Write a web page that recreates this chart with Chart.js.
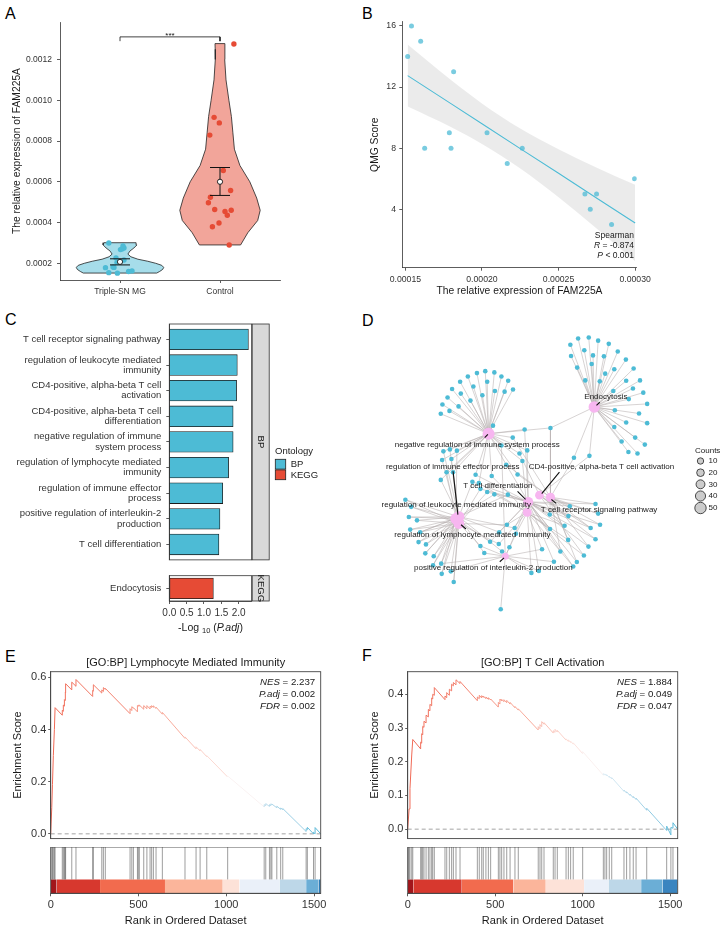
<!DOCTYPE html>
<html><head><meta charset="utf-8">
<script src="https://cdn.jsdelivr.net/npm/chart.js@4.4.1/dist/chart.umd.min.js"></script>
<style>
html,body{margin:0;padding:0;background:#fff}
body{width:726px;height:930px;position:relative;overflow:hidden;font-family:"Liberation Sans",Arial,sans-serif}
canvas{position:absolute;display:block}
.pl{position:absolute;font-size:16px;line-height:16px;color:#000}
</style></head><body>
<div class="pl" style="left:5px;top:6px">A</div>
<div class="pl" style="left:362px;top:6px">B</div>
<div class="pl" style="left:5px;top:312px">C</div>
<div class="pl" style="left:362px;top:313px">D</div>
<div class="pl" style="left:5px;top:649px">E</div>
<div class="pl" style="left:362px;top:648px">F</div>
<canvas id="cA" width="300" height="300" style="left:0;top:0"></canvas>
<canvas id="cB" width="366" height="300" style="left:360px;top:0"></canvas>
<canvas id="cC1" width="360" height="270" style="left:0;top:300px"></canvas>
<canvas id="cC2" width="360" height="75" style="left:0;top:565px"></canvas>
<canvas id="cD" width="366" height="320" style="left:360px;top:300px"></canvas>
<canvas id="cE1" width="360" height="207" style="left:0;top:640px"></canvas>
<canvas id="cE2" width="360" height="83" style="left:0;top:847px"></canvas>
<canvas id="cF1" width="366" height="207" style="left:360px;top:640px"></canvas>
<canvas id="cF2" width="366" height="83" style="left:360px;top:847px"></canvas>
<script>
// ================= DATA =================
// Panel A
const groupsA = ['Triple-SN MG', 'Control'];
const yTicksA = [0.0002, 0.0004, 0.0006, 0.0008, 0.0010, 0.0012];
const snExpr = [0.0001515,0.000154,0.00016,0.0001626,0.0001787,0.0001798,0.0001815,0.0002033,0.0002165,0.0002263,0.0002672,0.0002707,0.0002748,0.0002846,0.0002996];
const snJit  = [-0.026,-0.112,0.086,0.12,-0.145,-0.06,-0.07,-0.03,0.04,-0.04,0.005,0.02,0.04,0.03,-0.112];
const ctExpr = [0.001276,0.000916,0.000889,0.000829,0.000655,0.000557,0.000524,0.000497,0.000464,0.00046,0.000454,0.000436,0.000398,0.000379,0.00029];
const ctJit  = [0.139,-0.059,-0.007,-0.102,0.033,0.106,-0.096,-0.116,-0.053,0.112,0.05,0.073,-0.01,-0.076,0.092];
const snViolinY = [0.000301,0.00029,0.000275,0.00026,0.000245,0.000232,0.00022,0.00021,0.0002,0.00019,0.00018,0.00017,0.00016,0.000152];
const snViolinW = [0.161,0.169,0.139,0.099,0.079,0.109,0.179,0.278,0.357,0.417,0.437,0.427,0.397,0.367];
const ctViolinY = [0.001278,0.00125,0.0012,0.0011,0.001,0.00092,0.00084,0.00076,0.00068,0.0006,0.00052,0.00046,0.00041,0.00035,0.00029];
const ctViolinW = [0.05,0.048,0.047,0.06,0.089,0.114,0.129,0.144,0.199,0.298,0.367,0.402,0.377,0.278,0.206];
const meanA = [0.000207, 0.000600];
const seLoA = [0.000192, 0.000533];
const seHiA = [0.000222, 0.000670];
const sigY = 0.001311, sigTick = 0.00129;

// Panel B
const qmgX = [0.0001515,0.000154,0.00016,0.0001626,0.0001787,0.0001798,0.0001815,0.0002033,0.0002165,0.0002263,0.0002672,0.0002707,0.0002748,0.0002846,0.0002996];
const qmgY = [14,16,15,8,9,8,13,9,7,8,5,4,5,3,6];
const fitX = [0.0001515,0.00018,0.0002,0.000225,0.00025,0.000275,0.0003];
const fitY = [12.75,10.90,9.60,7.97,6.35,4.72,3.10];
const bandLo = [10.72,9.36,8.27,6.66,4.78,2.72,0.60];
const bandHi = [14.78,12.44,10.93,9.28,7.92,6.72,5.60];
const xTicksB = [0.00015,0.0002,0.00025,0.0003];
const yTicksB = [4,8,12,16];

// Panel C
const termsBP = [['T cell receptor signaling pathway'],['regulation of leukocyte mediated','immunity'],['CD4-positive, alpha-beta T cell','activation'],['CD4-positive, alpha-beta T cell','differentiation'],['negative regulation of immune','system process'],['regulation of lymphocyte mediated','immunity'],['regulation of immune effector','process'],['positive regulation of interleukin-2','production'],['T cell differentiation']];
const valsBP = [2.28,1.96,1.94,1.84,1.84,1.71,1.54,1.46,1.43];
const termsKEGG = [['Endocytosis']];
const valsKEGG = [1.27];
const xTicksC = [0,0.5,1,1.5,2];

// Panel D (network layout coordinates)
const catNames = ['T cell receptor signaling pathway','regulation of leukocyte mediated immunity','CD4-positive, alpha-beta T cell activation','CD4-positive, alpha-beta T cell differentiation','negative regulation of immune system process','regulation of lymphocyte mediated immunity','regulation of immune effector process','positive regulation of interleukin-2 production','T cell differentiation','Endocytosis'];
const catX = [170.7,76,159.3,146.7,106.7,76,73,124,147.7,216];
const catY = [178.7,199,176.5,194.3,112.7,206,201,240,183.5,85];
const catCount = [32,48,28,30,55,46,50,15,38,50];
const labX = [221,73.3,223.5,null,95,90,69.7,111.7,116.2,228];
const labY = [191.3,186.7,147,null,124,218,147,252.3,167,74];
const leadX0 = [176.7,null,180,null,102.7,83.3,70,118.3,136.7,221.7];
const leadY0 = [185,null,152.7,null,116.7,211.7,151.7,245.7,172.7,80];
const leadX1 = [171.7,null,161.7,null,106,78.3,75,122.7,145,218.3];
const leadY1 = [181,null,175,null,113.3,207.3,196.7,241.7,181,83.3];
const geneX = [199.3,210.3,220,231,191.3,205.7,240.3,192,214.7,226,248.7,213.3,198.3,236.7,256.7,227.3,206.7,221.7,249,263.3,235.7,256,266.7,251.7,270.7,237.3,262.3,249,270.7,236.7,258.3,268.3,244.3,251.3,260.7,
 170.7,195,211,
 103.3,112.7,94.7,120,85.3,127,77.3,105.3,91,132,69,113.3,123.3,78,100.3,64.3,88,59,75.7,66.3,57.3,111.3,
 131.7,144,146.7,138.7,141.7,60,66.7,74,58.7,68.3,63.3,70,93.3,110,136.7,90,96.7,105.3,112.7,120,125,57.3,98.3,126.7,170,
 117.7,125.7,133.7,135,98.3,102.3,108.3,117.3,128.3,120.7,
 20.7,26.7,24.3,32.7,25.7,36,34.3,42,41.3,50,57.7,49.3,58.3,67.7,70.7,
 217.3,220,190.7,189.3,185.3,212.3,222,170.3,189,217.3,210,162,181,205.3,174.3,198,194.3,158.7,151,
 119.3];
const geneY = [13.7,12.7,16,19.3,20.3,26,27.3,32,31.3,32.3,35.7,40.3,44,45.7,45,50.3,57.3,58.3,57.7,57.3,68.3,65.7,70,76.7,81.7,88.3,91.7,101,101.7,105.7,116.7,124,120.7,131.7,133.3,
 106.7,137.7,135.7,
 47.7,49,49.7,53.3,53.3,57.7,58.7,58.7,63.7,66.7,66.3,68.3,69,71,72.7,75,78.3,82.3,84.3,89,92,104.3,
 116.7,108.3,130,133.3,141,131,129,130.3,140,139,152.7,152.7,155.3,156.7,155,162.7,164,173.3,175.7,125,145,160.7,170,176,196.7,
 215,207.3,210.7,216.7,229.3,236.7,225,227.3,230.7,235,
 181.3,188.7,199.3,202.7,212.3,215,225.3,227.7,237,240,247.7,249.3,258.3,255.7,266.7,
 185.7,195.7,188,198.3,208.3,210.7,207.3,211.7,223,222.3,230,232.7,235,239.3,245.7,246,250.7,255.3,257.3,
 295];
const geneCats = ['9','9','9','9','9','9','9','9','9','9','9','9','9','9','9','9','9','9','9','9','9','9','9','9','9','9','9','9','9','9','9','9','9','9','9',
 '4,9,0','9,0','9,2',
 '4','4','4','4','4','4','4','4','4','4','4','4','4','4','4','4','4','4','4','4','4','4',
 '4,0','4,8','4,8','4,2','4,3','4,1','4,5','4,6','4,5','4,1','4,6','4,1','4,8','4,3','4,0','1,8','4,3','5,8','1,3','4,7','4,0,8','1,4','5,8','8,1','0,8',
 '1,8','5,3','8,1','3,7','5,7','1,7','6,8','5,3','7,8','1,7',
 '1,5','5,6','1,6','1,5','5,6','1,5,6','1,5','5,6','1,6','1,5','5,6,7','1,5','5,6','1,7','1,5',
 '0,8','0,2','0,8','2,8','3,8','0,2,8','0,8','3,8','0,3','2,8','0,8','3,7','0,8','2,3','8,7','0,8','3,8','8,7','3,7',
 '7'];
const legendCounts = [10,20,30,40,50];

// Panel E
const esRankE = [0,6,10,15,21,25,66,66,72,72,78,78,82,82,85,85,120,120,144,144,239,239,243,243,291,291,300,300,311,311,452,452,462,462,471,471,494,494,499,499,505,505,530,530,548,548,566,566,575,575,585,585,600,600,636,636,765,765,828,828,851,851,889,889,1008,1008,1216,1216,1225,1225,1246,1246,1254,1254,1260,1260,1288,1288,1310,1310,1322,1322,1455,1455,1462,1462,1497,1497,1506,1506,1538];
const esValE  = [0,0.1,0.19,0.3,0.4,0.484,0.455,0.474,0.47,0.494,0.49,0.515,0.512,0.543,0.541,0.576,0.552,0.582,0.566,0.592,0.527,0.55,0.547,0.572,0.54,0.552,0.546,0.561,0.554,0.558,0.461,0.48,0.473,0.488,0.482,0.484,0.468,0.492,0.489,0.494,0.49,0.494,0.478,0.492,0.48,0.492,0.479,0.49,0.484,0.492,0.485,0.491,0.481,0.486,0.459,0.466,0.366,0.372,0.326,0.334,0.318,0.324,0.296,0.3,0.218,0.222,0.103,0.112,0.108,0.116,0.105,0.112,0.108,0.115,0.112,0.114,0.1,0.106,0.094,0.099,0.093,0.097,0.009,0.02,0.016,0.025,0.0,0.006,0.0,0.024,0.0];
const hitsE = [6,10,15,21,25,66,72,78,82,85,120,144,239,243,291,300,311,452,462,471,494,499,505,530,548,566,575,585,600,636,765,828,851,889,1008,1216,1225,1246,1254,1260,1288,1310,1322,1455,1462,1497,1506];
const barBreaksE = [0,34,281,651,980,1075,1303,1455,1525,1538];
const barColsE = ['#A3161B','#D7382E','#F26B4E','#FBB59B','#FDE2D8','#EAF0F9','#BDD7E8','#6BAED6','#2C7BB6'];
const nesE = [['NES',' = 2.237'],['P.adj',' = 0.002'],['FDR',' = 0.002']];
const yTicksE = [0,0.2,0.4,0.6];

// Panel F
const esRankF = [0,4,8,13,23,29,74,74,80,80,86,86,93,93,105,105,118,118,127,127,137,137,143,143,152,152,213,213,223,223,238,238,251,251,261,261,276,276,299,299,398,398,409,409,423,423,432,432,447,447,461,461,474,474,518,518,527,527,537,537,550,550,566,566,585,585,613,613,632,632,746,746,756,756,766,766,779,779,832,832,842,842,855,855,905,905,918,918,931,931,946,946,1000,1000,1118,1118,1127,1127,1137,1137,1152,1152,1166,1166,1236,1236,1251,1251,1270,1270,1289,1289,1305,1305,1366,1366,1480,1480,1504,1504,1516,1516,1543];
const esValF  = [0,0.03,0.06,0.12,0.22,0.266,0.238,0.258,0.255,0.283,0.28,0.305,0.302,0.32,0.315,0.338,0.333,0.355,0.351,0.37,0.366,0.389,0.386,0.4,0.397,0.42,0.384,0.395,0.39,0.405,0.397,0.415,0.41,0.43,0.425,0.435,0.428,0.443,0.432,0.438,0.381,0.392,0.387,0.397,0.389,0.396,0.391,0.395,0.387,0.392,0.385,0.39,0.383,0.386,0.362,0.376,0.371,0.386,0.38,0.385,0.378,0.384,0.375,0.382,0.371,0.376,0.36,0.364,0.353,0.357,0.294,0.304,0.298,0.31,0.304,0.319,0.311,0.316,0.285,0.292,0.287,0.296,0.288,0.293,0.264,0.268,0.26,0.265,0.257,0.261,0.252,0.256,0.224,0.23,0.16,0.165,0.16,0.164,0.158,0.162,0.153,0.157,0.149,0.153,0.112,0.116,0.107,0.111,0.1,0.104,0.093,0.097,0.088,0.092,0.056,0.062,-0.004,0.009,-0.017,0.005,0.003,0.019,0];
const hitsF = [4,8,13,23,29,74,80,86,93,105,118,127,137,143,152,213,223,238,251,261,276,299,398,409,423,432,447,461,474,518,527,537,550,566,585,613,632,746,756,766,779,832,842,855,905,918,931,946,1000,1118,1127,1137,1152,1166,1236,1251,1270,1289,1305,1366,1480,1504,1516];
const barBreaksF = [0,32,309,604,789,1008,1147,1334,1457,1543];
const barColsF = ['#A3161B','#D7382E','#F26B4E','#FBB59B','#FDE2D8','#EAF0F9','#BDD7E8','#6BAED6','#3A85C0'];
const nesF = [['NES',' = 1.884'],['P.adj',' = 0.049'],['FDR',' = 0.047']];
const yTicksF = [0,0.1,0.2,0.3,0.4];
const xTicksGSEA = [0,500,1000,1500];

// ================= HELPERS =================
const FF = '"Liberation Sans", Arial, Helvetica, sans-serif';
Chart.defaults.font.family = FF;
Chart.defaults.color = '#333';
const fnt = (s, it) => (it ? 'italic ' : '') + s + 'px ' + FF;
function txt(ctx, parts, x, y, align) {
  let w = 0;
  parts.forEach(p => { ctx.font = fnt(p[1], p[2]); w += ctx.measureText(p[0]).width; });
  let sx = align === 'right' ? x - w : align === 'center' ? x - w / 2 : x;
  ctx.textAlign = 'left'; ctx.textBaseline = 'middle';
  parts.forEach(p => { ctx.font = fnt(p[1], p[2]); ctx.fillText(p[0], sx, y + (p[3] || 0)); sx += ctx.measureText(p[0]).width; });
}
function axis(o) {
  const a = {
    type: 'linear', bounds: 'data', offset: false, min: o.min, max: o.max, reverse: !!o.rev, display: o.show !== false,
    border: {display: true, color: '#333', width: 0.8},
    grid: {display: true, offset: false, drawOnChartArea: false, drawTicks: true, tickLength: o.tl != null ? o.tl : 3, color: '#333', tickColor: '#333', lineWidth: 0.8, tickWidth: 0.8},
    ticks: {display: true, color: '#333', font: {family: FF, size: o.fs || 8.5, lineHeight: o.lh || 1.2}, padding: o.pad != null ? o.pad : 4, autoSkip: false, maxRotation: 0, minRotation: 0},
    title: {display: !!o.title, text: o.title || '', color: '#1a1a1a', font: {family: FF, size: o.tfs || 10.3}, padding: o.tpad || 0}
  };
  if (o.cb) a.ticks.callback = o.cb;
  if (o.ticks) a.afterBuildTicks = s => { s.ticks = o.ticks.map(v => ({value: v})); };
  if (o.size != null) a.afterFit = s => { if (s.isHorizontal()) s.height = o.size; else s.width = o.size; };
  return a;
}
function baseOpts(pad) {
  return {responsive: false, devicePixelRatio: 1, animation: false, events: [], layout: {padding: pad},
    plugins: {legend: {display: false}, tooltip: {enabled: false}}};
}
function lineDS(data, o) {
  return Object.assign({type: 'line', data: data, pointRadius: 0, borderWidth: 1, borderColor: '#111', fill: false, tension: 0, spanGaps: false}, o || {});
}

// ================= PANEL A =================
(function () {
  const violin = (cx, ys, ws) => {
    const L = ys.map((y, i) => ({x: cx - ws[i], y}));
    const R = ys.map((y, i) => ({x: cx + ws[i], y})).reverse();
    const p = L.concat(R); p.push(p[0]); return p;
  };
  const err = [];
  [0, 1].forEach(i => {
    const c = i + 1;
    err.push({x: c, y: seLoA[i]}, {x: c, y: seHiA[i]}, {x: c, y: null},
      {x: c - 0.1, y: seLoA[i]}, {x: c + 0.1, y: seLoA[i]}, {x: c, y: null},
      {x: c - 0.1, y: seHiA[i]}, {x: c + 0.1, y: seHiA[i]}, {x: c, y: null});
  });
  const bracket = [{x: 1, y: sigTick}, {x: 1, y: sigY}, {x: 2, y: sigY}, {x: 2, y: sigTick}];
  const o = baseOpts({left: 0, top: 22, right: 20, bottom: 0});
  o.scales = {
    x: axis({min: 0.4, max: 2.6, ticks: [1, 2], cb: v => groupsA[Math.round(v) - 1], size: 20, pad: 4}),
    y: axis({min: 0.000118, max: 0.001384, ticks: yTicksA, cb: v => v.toFixed(4), size: 60, pad: 5, title: 'The relative expression of FAM225A', tpad: {top: 10.5, bottom: 0}})
  };
  new Chart(document.getElementById('cA'), {
    type: 'scatter',
    data: {datasets: [
      lineDS(violin(1, snViolinY, snViolinW), {fill: 'shape', backgroundColor: 'rgba(77,187,213,0.5)', borderColor: '#222', borderWidth: 0.8, order: 6}),
      lineDS(violin(2, ctViolinY, ctViolinW), {fill: 'shape', backgroundColor: 'rgba(230,75,53,0.5)', borderColor: '#222', borderWidth: 0.8, order: 6}),
      {data: snExpr.map((v, i) => ({x: 1 + snJit[i], y: v})), pointRadius: 2.7, pointBackgroundColor: '#4DBBD5', pointBorderWidth: 0, order: 4},
      {data: ctExpr.map((v, i) => ({x: 2 + ctJit[i], y: v})), pointRadius: 2.7, pointBackgroundColor: '#E64B35', pointBorderWidth: 0, order: 4},
      lineDS(err, {borderColor: '#111', borderWidth: 1, order: 3}),
      {data: meanA.map((v, i) => ({x: i + 1, y: v})), pointRadius: 2.6, pointBackgroundColor: '#fff', pointBorderColor: '#111', pointBorderWidth: 0.9, order: 1},
      lineDS(bracket, {borderColor: '#111', borderWidth: 0.8, order: 2})
    ]},
    options: o,
    plugins: [{id: 'annA', afterDatasetsDraw(c) {
      const x = c.ctx; x.save(); x.fillStyle = '#111'; x.font = fnt(8); x.textAlign = 'center'; x.textBaseline = 'alphabetic';
      x.fillText('***', c.scales.x.getPixelForValue(1.5), c.scales.y.getPixelForValue(sigY) + 1.2);
      x.restore();
    }}]
  });
})();

// ================= PANEL B =================
(function () {
  const o = baseOpts({left: 0, top: 21.7, right: 89.3, bottom: 0});
  o.scales = {
    x: axis({min: 0.000148, max: 0.000301, ticks: xTicksB, cb: v => v.toFixed(5), size: 32.3, fs: 8.7, pad: 3.5, title: 'The relative expression of FAM225A', tpad: {top: 0, bottom: 2.8}}),
    y: axis({min: 0.17, max: 16.28, ticks: yTicksB, cb: v => String(v), size: 42.3, fs: 8.7, pad: 3.3, title: 'QMG Score', tpad: {top: 8.8, bottom: 0}})
  };
  new Chart(document.getElementById('cB'), {
    type: 'scatter',
    data: {datasets: [
      lineDS(fitX.map((v, i) => ({x: v, y: bandLo[i]})), {borderWidth: 0, borderColor: 'rgba(0,0,0,0)', cubicInterpolationMode: 'monotone', order: 6}),
      lineDS(fitX.map((v, i) => ({x: v, y: bandHi[i]})), {borderWidth: 0, borderColor: 'rgba(0,0,0,0)', fill: '-1', backgroundColor: 'rgba(0,0,0,0.08)', cubicInterpolationMode: 'monotone', order: 5}),
      lineDS(fitX.map((v, i) => ({x: v, y: fitY[i]})), {borderColor: '#4DBBD5', borderWidth: 1.1, order: 4}),
      {data: qmgX.map((v, i) => ({x: v, y: qmgY[i]})), pointRadius: 2.5, pointBackgroundColor: 'rgba(77,187,213,0.75)', pointBorderWidth: 0, order: 1}
    ]},
    options: o,
    plugins: [{id: 'annB', afterDatasetsDraw(c) {
      const x = c.ctx, a = c.chartArea, r = a.right - 2.7; x.save(); x.fillStyle = '#1a1a1a';
      txt(x, [['Spearman', 8.5]], r, a.bottom - 31.7, 'right');
      txt(x, [['R', 8.5, true], [' = -0.874', 8.5]], r, a.bottom - 21.7, 'right');
      txt(x, [['P', 8.5, true], [' < 0.001', 8.5]], r, a.bottom - 11.7, 'right');
      x.restore();
    }}]
  });
})();

// ================= PANEL C =================
function stripDraw(c, label) {
  const x = c.ctx, a = c.chartArea; x.save();
  x.strokeStyle = '#333'; x.lineWidth = 0.8;
  x.strokeRect(a.left, a.top, a.right - a.left, a.bottom - a.top);
  x.fillStyle = '#D9D9D9'; x.fillRect(a.right + 0.5, a.top, 17, a.bottom - a.top);
  x.strokeRect(a.right + 0.5, a.top, 17, a.bottom - a.top);
  x.translate(a.right + 9, (a.top + a.bottom) / 2); x.rotate(Math.PI / 2);
  x.fillStyle = '#1a1a1a'; x.font = fnt(9.5); x.textAlign = 'center'; x.textBaseline = 'middle';
  x.fillText(label, 0, 0); x.restore();
}
(function () {
  const o = baseOpts({left: 0, top: 24, right: 108.3, bottom: 5});
  o.indexAxis = 'y';
  o.scales = {
    x: axis({min: 0, max: 2.375, show: false}),
    y: axis({min: -0.6, max: 8.6, rev: true, ticks: [0,1,2,3,4,5,6,7,8], cb: v => { const t = termsBP[Math.round(v)]; return t.length > 1 ? t : t[0]; }, size: 169.3, fs: 9.5, lh: 1.08, pad: 5})
  };
  new Chart(document.getElementById('cC1'), {
    type: 'bar',
    data: {datasets: [{data: valsBP.map((v, i) => ({x: v, y: i})), backgroundColor: '#4DBBD5', borderColor: '#1a1a1a', borderWidth: 0.8, borderSkipped: false, barThickness: 20.7}]},
    options: o,
    plugins: [{id: 'stripBP', afterDraw(c) {
      stripDraw(c, 'BP');
      const x = c.ctx; x.save();
      x.fillStyle = '#1a1a1a'; txt(x, [['Ontology', 9.5]], 275, 151, 'left');
      [['BP', '#4DBBD5'], ['KEGG', '#E64B35']].forEach((e, i) => {
        const by = 159.3 + i * 10.6;
        x.fillStyle = e[1]; x.fillRect(275.3, by, 10.4, 9.8);
        x.strokeStyle = '#222'; x.lineWidth = 0.8; x.strokeRect(275.3, by, 10.4, 9.8);
        x.fillStyle = '#1a1a1a'; txt(x, [[e[0], 9.5]], 290.7, by + 5, 'left');
      });
      x.restore();
    }}]
  });
})();
(function () {
  const o = baseOpts({left: 0, top: 5, right: 108.3, bottom: 0});
  o.indexAxis = 'y';
  o.scales = {
    x: axis({min: 0, max: 2.375, ticks: xTicksC, cb: v => v.toFixed(1), size: 39, fs: 10, pad: 3}),
    y: axis({min: -0.6, max: 0.6, rev: true, ticks: [0], cb: v => termsKEGG[Math.round(v)][0], size: 169.3, fs: 9.5, pad: 5})
  };
  new Chart(document.getElementById('cC2'), {
    type: 'bar',
    data: {datasets: [{data: valsKEGG.map((v, i) => ({x: v, y: i})), backgroundColor: '#E64B35', borderColor: '#1a1a1a', borderWidth: 0.8, borderSkipped: false, barThickness: 20.7}]},
    options: o,
    plugins: [{id: 'stripK', afterDraw(c) {
      stripDraw(c, 'KEGG');
      const x = c.ctx, a = c.chartArea; x.save(); x.fillStyle = '#1a1a1a';
      txt(x, [['-Log ', 10.5], ['10', 7.5, false, 3], [' (', 10.5], ['P.adj', 10.5, true], [')', 10.5]], (a.left + a.right) / 2, 63, 'center');
      x.restore();
    }}]
  });
})();

// ================= PANEL D =================
(function () {
  const rOf = n => 0.0625 * n + 2.575;
  const edges = [];
  geneX.forEach((gx, i) => {
    geneCats[i].split(',').forEach(s => {
      const k = +s;
      edges.push({x: gx, y: geneY[i]}, {x: catX[k], y: catY[k]}, {x: gx, y: null});
    });
  });
  const leads = [];
  leadX0.forEach((v, i) => { if (v != null) leads.push({x: v, y: leadY0[i]}, {x: leadX1[i], y: leadY1[i]}, {x: v, y: null}); });
  const o = baseOpts({left: 0, top: 0, right: 0, bottom: 0});
  o.scales = {x: {type: 'linear', min: -20, max: 346, display: false}, y: {type: 'linear', min: -20, max: 300, reverse: true, display: false}};
  new Chart(document.getElementById('cD'), {
    type: 'scatter',
    data: {datasets: [
      lineDS(edges, {borderColor: 'rgba(180,174,174,0.6)', borderWidth: 0.9, order: 5}),
      {data: geneX.map((v, i) => ({x: v, y: geneY[i]})), pointRadius: 2.3, pointBackgroundColor: '#4DBBD5', pointBorderWidth: 0, order: 4},
      {data: catX.map((v, i) => ({x: v, y: catY[i]})), pointRadius: catCount.map(rOf), pointBackgroundColor: '#F7B6F0', pointBorderWidth: 0, order: 3},
      lineDS(leads, {borderColor: '#111', borderWidth: 1.1, order: 2})
    ]},
    options: o,
    plugins: [{id: 'dlab', afterDatasetsDraw(c) {
      const x = c.ctx, sx = c.scales.x, sy = c.scales.y; x.save();
      x.fillStyle = '#1a1a1a'; x.font = fnt(8); x.textAlign = 'center'; x.textBaseline = 'middle';
      catNames.forEach((n, i) => { if (labX[i] != null) x.fillText(n, sx.getPixelForValue(labX[i]), sy.getPixelForValue(labY[i])); });
      x.textAlign = 'left'; x.font = fnt(8); x.fillText('Counts', 335, 151);
      legendCounts.forEach((n, i) => {
        const cy = [161, 172.7, 184.3, 196, 208][i];
        x.beginPath(); x.arc(340.5, cy, rOf(n), 0, Math.PI * 2);
        x.fillStyle = '#CCCCCC'; x.fill(); x.strokeStyle = '#222'; x.lineWidth = 0.8; x.stroke();
        x.fillStyle = '#1a1a1a'; x.fillText(String(n), 348.5, cy);
      });
      x.restore();
    }}]
  });
})();

// ================= PANELS E / F =================
const esStops = [[0,[240,104,84]],[0.2,[243,130,112]],[0.38,[247,162,145]],[0.52,[250,198,188]],[0.6,[252,224,218]],[0.66,[250,244,244]],[0.72,[226,239,246]],[0.8,[186,219,235]],[0.9,[135,199,225]],[1,[85,183,214]]];
function esColor(t) {
  for (let i = 1; i < esStops.length; i++) {
    if (t <= esStops[i][0]) {
      const a = esStops[i - 1], b = esStops[i], f = (t - a[0]) / (b[0] - a[0]);
      return 'rgb(' + a[1].map((c, k) => Math.round(c + (b[1][k] - c) * f)).join(',') + ')';
    }
  }
  return 'rgb(85,183,214)';
}
function gsea(idTop, idBot, cfg) {
  const N = cfg.n;
  const oT = baseOpts({left: 0, top: 31.7, right: cfg.padR, bottom: 0});
  oT.scales = {
    x: {type: 'linear', min: 0, max: N, display: false},
    y: axis({min: cfg.ymin, max: cfg.ymax, ticks: cfg.yTicks, cb: v => v.toFixed(1), size: cfg.padL, fs: 11, tl: 2.5, pad: 1.8, title: 'Enrichment Score', tfs: 11, tpad: {top: cfg.tpad, bottom: 0}})
  };
  new Chart(document.getElementById(idTop), {
    type: 'scatter',
    data: {datasets: [
      lineDS([{x: 0, y: 0}, {x: N, y: 0}], {borderColor: '#9a9a9a', borderWidth: 0.9, borderDash: [4, 3], order: 3}),
      lineDS(cfg.rank.map((r, i) => ({x: r, y: cfg.es[i]})), {borderWidth: 1, borderColor: '#F26B5B', segment: {borderColor: ctx => esColor(ctx.p0.parsed.x / N)}, order: 1})
    ]},
    options: oT,
    plugins: [{id: 'gt', afterDraw(c) {
      const x = c.ctx, a = c.chartArea; x.save();
      x.strokeStyle = '#444'; x.lineWidth = 0.9; x.strokeRect(a.left, a.top, a.right - a.left, a.bottom - a.top);
      x.fillStyle = '#1a1a1a';
      txt(x, [[cfg.title, 11]], (a.left + a.right) / 2, a.top - 9, 'center');
      cfg.nes.forEach((n, i) => txt(x, [[n[0], 9.7, true], [n[1], 9.7]], a.right - 5.5, a.top + 11 + i * 11.7, 'right'));
      x.restore();
    }}]
  });
  const rug = [];
  cfg.hits.forEach(h => rug.push({x: h, y: 0.3}, {x: h, y: 1}, {x: h, y: null}));
  const bars = cfg.cols.map((col, i) => lineDS([{x: cfg.breaks[i], y: 0.3}, {x: cfg.breaks[i + 1], y: 0.3}], {borderWidth: 0, borderColor: 'rgba(0,0,0,0)', fill: 'origin', backgroundColor: col, order: 3}));
  const oB = baseOpts({left: cfg.padL, top: 0, right: cfg.padR, bottom: 0});
  oB.scales = {
    x: axis({min: 0, max: N, ticks: xTicksGSEA, cb: v => String(v), size: 36.7, fs: 11, tl: 3, pad: 2.5, title: 'Rank in Ordered Dataset', tfs: 11, tpad: {top: 0, bottom: 2.2}}),
    y: {type: 'linear', min: 0, max: 1, display: false}
  };
  new Chart(document.getElementById(idBot), {
    type: 'scatter',
    data: {datasets: bars.concat([lineDS(rug, {borderColor: 'rgba(40,40,40,0.5)', borderWidth: 0.9, order: 1})])},
    options: oB,
    plugins: [{id: 'gb', afterDraw(c) {
      const x = c.ctx, a = c.chartArea; x.save();
      x.strokeStyle = '#444'; x.lineWidth = 0.9; x.strokeRect(a.left, a.top, a.right - a.left, a.bottom - a.top);
      x.restore();
    }}]
  });
}
gsea('cE1', 'cE2', {n: 1538, padL: 50.7, padR: 39.3, ymin: -0.0183, ymax: 0.622, yTicks: yTicksE, tpad: 11.7,
  rank: esRankE, es: esValE, hits: hitsE, breaks: barBreaksE, cols: barColsE, nes: nesE, title: '[GO:BP] Lymphocyte Mediated Immunity'});
gsea('cF1', 'cF2', {n: 1543, padL: 47.7, padR: 48.3, ymin: -0.028, ymax: 0.467, yTicks: yTicksF, tpad: 8.4,
  rank: esRankF, es: esValF, hits: hitsF, breaks: barBreaksF, cols: barColsF, nes: nesF, title: '[GO:BP] T Cell Activation'});
</script>
</body></html>
